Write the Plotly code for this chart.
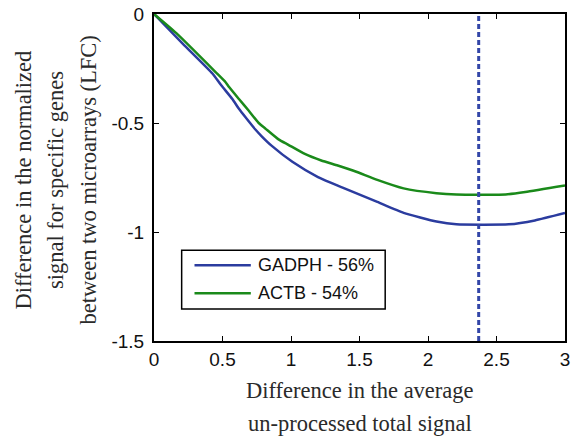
import plotly.graph_objects as go

# Signal difference curves (x: difference in average un-processed total signal)
gadph_x = [0, 0.211, 0.428, 0.488, 0.572, 0.62, 0.668, 0.74, 0.788, 0.86, 1.01, 1.197, 1.39, 1.63,
           1.822, 2.062, 2.207, 2.59, 2.78, 3.0]
gadph_y = [0, -0.137, -0.274, -0.325, -0.390, -0.435, -0.474, -0.530, -0.562, -0.605, -0.678, -0.748,
           -0.800, -0.862, -0.912, -0.952, -0.965, -0.965, -0.947, -0.913]

actb_x = [0, 0.163, 0.452, 0.524, 0.548, 0.62, 0.692, 0.764, 0.812, 0.909, 0.981, 1.101, 1.221, 1.341,
          1.462, 1.63, 1.822, 2.062, 2.207, 2.567, 2.71, 3.0]
actb_y = [0, -0.088, -0.268, -0.314, -0.335, -0.39, -0.444, -0.50, -0.525, -0.575, -0.60, -0.642, -0.672,
          -0.695, -0.72, -0.761, -0.800, -0.822, -0.828, -0.828, -0.817, -0.787]

series_names = ["GADPH - 56%", "ACTB - 54%"]
series_colors = ["#2b3c9f", "#1a8a1a"]

cutoff_x = 2.37

x_ticks = [0, 0.5, 1, 1.5, 2, 2.5, 3]
x_tick_text = ["0", "0.5", "1", "1.5", "2", "2.5", "3"]
y_ticks = [0, -0.5, -1, -1.5]
y_tick_text = ["0", "-0.5", "-1", "-1.5"]

y_title_lines = ["Difference in the normalized", "signal for specific genes", "between two microarrays (LFC)"]
x_title_lines = ["Difference in the average", "un-processed total signal"]

serif = "Liberation Serif, Times New Roman, serif"
sans = "Liberation Sans, Arial, sans-serif"

# plot area geometry (pixels)
W, H = 574, 436
ML, MR, MT, MB = 154, 4, 13, 95
PW, PH = W - ML - MR, H - MT - MB


def px_x(p):
    return (p - ML) / PW


def px_y(p):
    return (H - MB - p) / PH


fig = go.Figure()
fig.add_trace(go.Scatter(x=gadph_x, y=gadph_y, mode="lines", name=series_names[0],
                         line=dict(color=series_colors[0], width=2.5, shape="spline", smoothing=0.5)))
fig.add_trace(go.Scatter(x=actb_x, y=actb_y, mode="lines", name=series_names[1],
                         line=dict(color=series_colors[1], width=2.5, shape="spline", smoothing=0.5)))

fig.add_shape(type="line", x0=cutoff_x, x1=cutoff_x, y0=0, y1=1, xref="x", yref="paper",
              line=dict(color="#3346a8", width=3, dash="5px,3px"))

# boxed legend
fig.add_shape(type="rect", xref="paper", yref="paper",
              x0=px_x(182), x1=px_x(388), y0=px_y(309), y1=px_y(250),
              line=dict(color="black", width=1.5), fillcolor="white", layer="above")
annotations = []
for i, (name, color) in enumerate(zip(series_names, series_colors)):
    row_y = px_y(265 + 28 * i)
    fig.add_shape(type="line", xref="paper", yref="paper",
                  x0=px_x(195), x1=px_x(252), y0=row_y, y1=row_y,
                  line=dict(color=color, width=2.5), layer="above")
    annotations.append(dict(text=name, xref="paper", yref="paper", x=px_x(257), y=row_y,
                            showarrow=False, xanchor="left", yanchor="middle",
                            font=dict(family=sans, size=18, color="#111")))

for i, t in enumerate(y_title_lines):
    annotations.append(dict(text=t, xref="paper", yref="paper", x=0, y=0.5,
                            xshift=-131 + 32.5 * i, yshift=-3, showarrow=False, textangle=-90,
                            font=dict(family=serif, size=22.5, color="#2a2a2a"),
                            xanchor="center", yanchor="middle"))
for i, t in enumerate(x_title_lines):
    annotations.append(dict(text=t, xref="paper", yref="paper", x=0.5, y=0,
                            yshift=-49 - 33 * i, showarrow=False,
                            font=dict(family=serif, size=22.5, color="#2a2a2a"),
                            xanchor="center", yanchor="middle"))

axis_common = dict(showline=True, linecolor="black", linewidth=2, mirror="ticks",
                   ticks="inside", ticklen=5, tickcolor="black", tickwidth=1,
                   showgrid=False, zeroline=False,
                   tickfont=dict(family=sans, size=19, color="#111"))

fig.update_layout(
    width=W, height=H,
    margin=dict(l=ML, r=MR, t=MT, b=MB),
    plot_bgcolor="white", paper_bgcolor="white",
    xaxis=dict(range=[0, 3], tickvals=x_ticks, ticktext=x_tick_text, ticklabelstandoff=0, **axis_common),
    yaxis=dict(range=[-1.5, 0], tickvals=y_ticks, ticktext=y_tick_text, ticklabelstandoff=4, **axis_common),
    annotations=annotations,
    showlegend=False,
)

fig.write_html("out.html")
